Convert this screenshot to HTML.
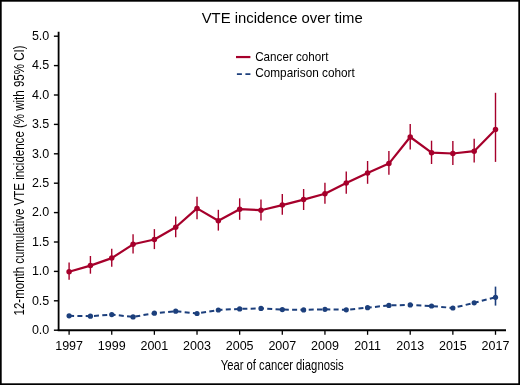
<!DOCTYPE html>
<html><head><meta charset="utf-8"><style>
html,body{margin:0;padding:0;background:#fff;}
body{width:520px;height:385px;overflow:hidden;}
svg{display:block;will-change:transform;font-family:"Liberation Sans",sans-serif;}
</style></head><body>
<svg width="520" height="385" viewBox="0 0 520 385">
<rect x="0" y="0" width="520" height="385" fill="#fff"/>
<rect x="0.85" y="0.85" width="518.3" height="383.3" fill="none" stroke="#000" stroke-width="1.7"/>
<text x="282.2" y="22.8" font-size="14.8" text-anchor="middle" textLength="161" lengthAdjust="spacingAndGlyphs" fill="#000">VTE incidence over time</text>
<line x1="236" y1="57.05" x2="250.4" y2="57.05" stroke="#a6002b" stroke-width="2.2"/>
<line x1="236.9" y1="74.05" x2="250.4" y2="74.05" stroke="#1c3f7c" stroke-width="1.8" stroke-dasharray="5 3.5"/>
<text x="255.2" y="60.8" font-size="12.2" textLength="73.2" lengthAdjust="spacingAndGlyphs" fill="#000">Cancer cohort</text>
<text x="255.2" y="77.4" font-size="12.2" textLength="99.6" lengthAdjust="spacingAndGlyphs" fill="#000">Comparison cohort</text>
<line x1="58.6" y1="31.7" x2="58.6" y2="331.1" stroke="#000" stroke-width="1.8"/>
<line x1="57.7" y1="330.2" x2="506" y2="330.2" stroke="#000" stroke-width="1.9"/>
<line x1="53.9" y1="330.20" x2="58.6" y2="330.20" stroke="#000" stroke-width="1.4"/>
<text x="49.3" y="334.00" font-size="12.5" text-anchor="end" fill="#000">0.0</text>
<line x1="53.9" y1="300.80" x2="58.6" y2="300.80" stroke="#000" stroke-width="1.4"/>
<text x="49.3" y="304.60" font-size="12.5" text-anchor="end" fill="#000">0.5</text>
<line x1="53.9" y1="271.40" x2="58.6" y2="271.40" stroke="#000" stroke-width="1.4"/>
<text x="49.3" y="275.20" font-size="12.5" text-anchor="end" fill="#000">1.0</text>
<line x1="53.9" y1="242.00" x2="58.6" y2="242.00" stroke="#000" stroke-width="1.4"/>
<text x="49.3" y="245.80" font-size="12.5" text-anchor="end" fill="#000">1.5</text>
<line x1="53.9" y1="212.60" x2="58.6" y2="212.60" stroke="#000" stroke-width="1.4"/>
<text x="49.3" y="216.40" font-size="12.5" text-anchor="end" fill="#000">2.0</text>
<line x1="53.9" y1="183.20" x2="58.6" y2="183.20" stroke="#000" stroke-width="1.4"/>
<text x="49.3" y="187.00" font-size="12.5" text-anchor="end" fill="#000">2.5</text>
<line x1="53.9" y1="153.80" x2="58.6" y2="153.80" stroke="#000" stroke-width="1.4"/>
<text x="49.3" y="157.60" font-size="12.5" text-anchor="end" fill="#000">3.0</text>
<line x1="53.9" y1="124.40" x2="58.6" y2="124.40" stroke="#000" stroke-width="1.4"/>
<text x="49.3" y="128.20" font-size="12.5" text-anchor="end" fill="#000">3.5</text>
<line x1="53.9" y1="95.00" x2="58.6" y2="95.00" stroke="#000" stroke-width="1.4"/>
<text x="49.3" y="98.80" font-size="12.5" text-anchor="end" fill="#000">4.0</text>
<line x1="53.9" y1="65.60" x2="58.6" y2="65.60" stroke="#000" stroke-width="1.4"/>
<text x="49.3" y="69.40" font-size="12.5" text-anchor="end" fill="#000">4.5</text>
<line x1="53.9" y1="36.20" x2="58.6" y2="36.20" stroke="#000" stroke-width="1.4"/>
<text x="49.3" y="40.00" font-size="12.5" text-anchor="end" fill="#000">5.0</text>
<line x1="69.10" y1="330.2" x2="69.10" y2="334.8" stroke="#000" stroke-width="1.3"/>
<text x="69.10" y="349.5" font-size="12.5" text-anchor="middle" fill="#000">1997</text>
<line x1="111.74" y1="330.2" x2="111.74" y2="334.8" stroke="#000" stroke-width="1.3"/>
<text x="111.74" y="349.5" font-size="12.5" text-anchor="middle" fill="#000">1999</text>
<line x1="154.38" y1="330.2" x2="154.38" y2="334.8" stroke="#000" stroke-width="1.3"/>
<text x="154.38" y="349.5" font-size="12.5" text-anchor="middle" fill="#000">2001</text>
<line x1="197.02" y1="330.2" x2="197.02" y2="334.8" stroke="#000" stroke-width="1.3"/>
<text x="197.02" y="349.5" font-size="12.5" text-anchor="middle" fill="#000">2003</text>
<line x1="239.66" y1="330.2" x2="239.66" y2="334.8" stroke="#000" stroke-width="1.3"/>
<text x="239.66" y="349.5" font-size="12.5" text-anchor="middle" fill="#000">2005</text>
<line x1="282.30" y1="330.2" x2="282.30" y2="334.8" stroke="#000" stroke-width="1.3"/>
<text x="282.30" y="349.5" font-size="12.5" text-anchor="middle" fill="#000">2007</text>
<line x1="324.94" y1="330.2" x2="324.94" y2="334.8" stroke="#000" stroke-width="1.3"/>
<text x="324.94" y="349.5" font-size="12.5" text-anchor="middle" fill="#000">2009</text>
<line x1="367.58" y1="330.2" x2="367.58" y2="334.8" stroke="#000" stroke-width="1.3"/>
<text x="367.58" y="349.5" font-size="12.5" text-anchor="middle" fill="#000">2011</text>
<line x1="410.22" y1="330.2" x2="410.22" y2="334.8" stroke="#000" stroke-width="1.3"/>
<text x="410.22" y="349.5" font-size="12.5" text-anchor="middle" fill="#000">2013</text>
<line x1="452.86" y1="330.2" x2="452.86" y2="334.8" stroke="#000" stroke-width="1.3"/>
<text x="452.86" y="349.5" font-size="12.5" text-anchor="middle" fill="#000">2015</text>
<line x1="495.50" y1="330.2" x2="495.50" y2="334.8" stroke="#000" stroke-width="1.3"/>
<text x="495.50" y="349.5" font-size="12.5" text-anchor="middle" fill="#000">2017</text>
<text x="282.2" y="370.2" font-size="15" text-anchor="middle" textLength="123" lengthAdjust="spacingAndGlyphs" fill="#000">Year of cancer diagnosis</text>
<text transform="translate(23.7 180.5) rotate(-90)" x="0" y="0" font-size="15" text-anchor="middle" textLength="270" lengthAdjust="spacingAndGlyphs" fill="#000">12-month cumulative VTE incidence (% with 95% CI)</text>
<polyline points="69.10,315.80 90.42,316.20 111.74,314.60 133.06,316.90 154.38,313.20 175.70,311.20 197.02,313.50 218.34,310.00 239.66,308.90 260.98,308.40 282.30,309.60 303.62,309.90 324.94,309.30 346.26,309.80 367.58,307.70 388.90,305.40 410.22,304.90 431.54,306.00 452.86,308.00 474.18,302.80 495.50,297.30" fill="none" stroke="#1c3f7c" stroke-width="2" stroke-dasharray="5 3.3"/>
<line x1="495.50" y1="286.6" x2="495.50" y2="305.6" stroke="#1c3f7c" stroke-width="1.6"/>
<circle cx="69.10" cy="315.80" r="2.6" fill="#1c3f7c"/>
<circle cx="90.42" cy="316.20" r="2.6" fill="#1c3f7c"/>
<circle cx="111.74" cy="314.60" r="2.6" fill="#1c3f7c"/>
<circle cx="133.06" cy="316.90" r="2.6" fill="#1c3f7c"/>
<circle cx="154.38" cy="313.20" r="2.6" fill="#1c3f7c"/>
<circle cx="175.70" cy="311.20" r="2.6" fill="#1c3f7c"/>
<circle cx="197.02" cy="313.50" r="2.6" fill="#1c3f7c"/>
<circle cx="218.34" cy="310.00" r="2.6" fill="#1c3f7c"/>
<circle cx="239.66" cy="308.90" r="2.6" fill="#1c3f7c"/>
<circle cx="260.98" cy="308.40" r="2.6" fill="#1c3f7c"/>
<circle cx="282.30" cy="309.60" r="2.6" fill="#1c3f7c"/>
<circle cx="303.62" cy="309.90" r="2.6" fill="#1c3f7c"/>
<circle cx="324.94" cy="309.30" r="2.6" fill="#1c3f7c"/>
<circle cx="346.26" cy="309.80" r="2.6" fill="#1c3f7c"/>
<circle cx="367.58" cy="307.70" r="2.6" fill="#1c3f7c"/>
<circle cx="388.90" cy="305.40" r="2.6" fill="#1c3f7c"/>
<circle cx="410.22" cy="304.90" r="2.6" fill="#1c3f7c"/>
<circle cx="431.54" cy="306.00" r="2.6" fill="#1c3f7c"/>
<circle cx="452.86" cy="308.00" r="2.6" fill="#1c3f7c"/>
<circle cx="474.18" cy="302.80" r="2.6" fill="#1c3f7c"/>
<circle cx="495.50" cy="297.30" r="2.6" fill="#1c3f7c"/>
<line x1="69.10" y1="262.6" x2="69.10" y2="279.7" stroke="#a6002b" stroke-width="1.4"/>
<line x1="90.42" y1="256.0" x2="90.42" y2="273.7" stroke="#a6002b" stroke-width="1.4"/>
<line x1="111.74" y1="248.7" x2="111.74" y2="266.7" stroke="#a6002b" stroke-width="1.4"/>
<line x1="133.06" y1="234.3" x2="133.06" y2="253.6" stroke="#a6002b" stroke-width="1.4"/>
<line x1="154.38" y1="229.1" x2="154.38" y2="249.1" stroke="#a6002b" stroke-width="1.4"/>
<line x1="175.70" y1="216.4" x2="175.70" y2="237.3" stroke="#a6002b" stroke-width="1.4"/>
<line x1="197.02" y1="196.8" x2="197.02" y2="219.2" stroke="#a6002b" stroke-width="1.4"/>
<line x1="218.34" y1="209.8" x2="218.34" y2="230.6" stroke="#a6002b" stroke-width="1.4"/>
<line x1="239.66" y1="198.3" x2="239.66" y2="219.8" stroke="#a6002b" stroke-width="1.4"/>
<line x1="260.98" y1="199.6" x2="260.98" y2="220.4" stroke="#a6002b" stroke-width="1.4"/>
<line x1="282.30" y1="193.9" x2="282.30" y2="214.8" stroke="#a6002b" stroke-width="1.4"/>
<line x1="303.62" y1="189.0" x2="303.62" y2="210.0" stroke="#a6002b" stroke-width="1.4"/>
<line x1="324.94" y1="182.7" x2="324.94" y2="203.8" stroke="#a6002b" stroke-width="1.4"/>
<line x1="346.26" y1="171.5" x2="346.26" y2="193.8" stroke="#a6002b" stroke-width="1.4"/>
<line x1="367.58" y1="161.0" x2="367.58" y2="183.8" stroke="#a6002b" stroke-width="1.4"/>
<line x1="388.90" y1="151.1" x2="388.90" y2="174.8" stroke="#a6002b" stroke-width="1.4"/>
<line x1="410.22" y1="124.1" x2="410.22" y2="149.5" stroke="#a6002b" stroke-width="1.4"/>
<line x1="431.54" y1="140.7" x2="431.54" y2="164.0" stroke="#a6002b" stroke-width="1.4"/>
<line x1="452.86" y1="141.1" x2="452.86" y2="164.9" stroke="#a6002b" stroke-width="1.4"/>
<line x1="474.18" y1="138.8" x2="474.18" y2="162.6" stroke="#a6002b" stroke-width="1.4"/>
<line x1="495.50" y1="92.8" x2="495.50" y2="161.9" stroke="#a6002b" stroke-width="1.4"/>
<polyline points="69.10,271.80 90.42,265.60 111.74,258.10 133.06,244.30 154.38,239.50 175.70,227.30 197.02,208.40 218.34,220.80 239.66,209.20 260.98,210.20 282.30,205.10 303.62,199.60 324.94,193.70 346.26,183.10 367.58,172.90 388.90,163.60 410.22,137.00 431.54,152.70 452.86,153.50 474.18,151.20 495.50,129.60" fill="none" stroke="#a6002b" stroke-width="2.2" stroke-linejoin="round"/>
<circle cx="69.10" cy="271.80" r="2.75" fill="#a6002b"/>
<circle cx="90.42" cy="265.60" r="2.75" fill="#a6002b"/>
<circle cx="111.74" cy="258.10" r="2.75" fill="#a6002b"/>
<circle cx="133.06" cy="244.30" r="2.75" fill="#a6002b"/>
<circle cx="154.38" cy="239.50" r="2.75" fill="#a6002b"/>
<circle cx="175.70" cy="227.30" r="2.75" fill="#a6002b"/>
<circle cx="197.02" cy="208.40" r="2.75" fill="#a6002b"/>
<circle cx="218.34" cy="220.80" r="2.75" fill="#a6002b"/>
<circle cx="239.66" cy="209.20" r="2.75" fill="#a6002b"/>
<circle cx="260.98" cy="210.20" r="2.75" fill="#a6002b"/>
<circle cx="282.30" cy="205.10" r="2.75" fill="#a6002b"/>
<circle cx="303.62" cy="199.60" r="2.75" fill="#a6002b"/>
<circle cx="324.94" cy="193.70" r="2.75" fill="#a6002b"/>
<circle cx="346.26" cy="183.10" r="2.75" fill="#a6002b"/>
<circle cx="367.58" cy="172.90" r="2.75" fill="#a6002b"/>
<circle cx="388.90" cy="163.60" r="2.75" fill="#a6002b"/>
<circle cx="410.22" cy="137.00" r="2.75" fill="#a6002b"/>
<circle cx="431.54" cy="152.70" r="2.75" fill="#a6002b"/>
<circle cx="452.86" cy="153.50" r="2.75" fill="#a6002b"/>
<circle cx="474.18" cy="151.20" r="2.75" fill="#a6002b"/>
<circle cx="495.50" cy="129.60" r="2.75" fill="#a6002b"/>
</svg>
</body></html>
